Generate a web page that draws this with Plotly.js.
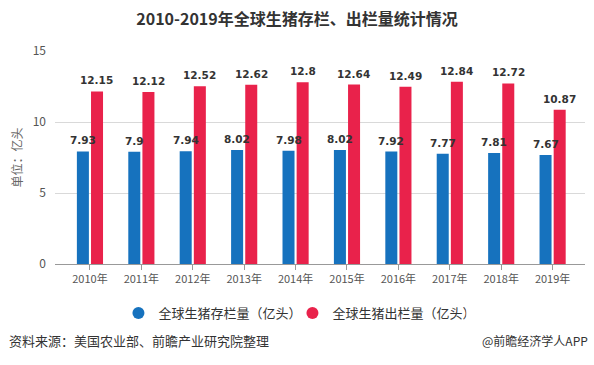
<!DOCTYPE html>
<html><head><meta charset="utf-8">
<script src="https://cdn.plot.ly/plotly-3.0.1.min.js"></script>
<style>body{margin:0;background:#fff}#c{width:594px;height:365px}</style>
</head><body><div id="c"></div>
<script>
const years = ['2010年','2011年','2012年','2013年','2014年','2015年','2016年','2017年','2018年','2019年'];
const stock = [7.93, 7.9, 7.94, 8.02, 7.98, 8.02, 7.92, 7.77, 7.81, 7.67];
const slaughter = [12.15, 12.12, 12.52, 12.62, 12.8, 12.64, 12.49, 12.84, 12.72, 10.87];
const seriesNames = ['全球生猪存栏量（亿头）', '全球生猪出栏量（亿头）'];
const colors = ['#1672be', '#e9224b'];
const yTicks = [0, 5, 10, 15];

const cjk = '"Noto Sans CJK SC", sans-serif';
const labelFont = {family: 'DejaVu Sans, sans-serif', size: 10.5, color: '#333', weight: 'bold'};

const data = [
  {type:'bar', x: years, y: stock, name: seriesNames[0], marker:{color: colors[0]},
   showlegend:false, hoverinfo:'none'},
  {type:'bar', x: years, y: slaughter, name: seriesNames[1], marker:{color: colors[1]},
   showlegend:false, hoverinfo:'none'},
  {type:'scatter', mode:'markers', x:[null], y:[null], name: seriesNames[0],
   marker:{color: colors[0], size: 12, symbol:'circle'}},
  {type:'scatter', mode:'markers', x:[null], y:[null], name: seriesNames[1],
   marker:{color: colors[1], size: 12, symbol:'circle'}}
];

// value labels drawn on top of all bars, positioned through the axes
const valueLabels = [];
[[stock, -7], [slaughter, 7]].forEach(([vals, shift]) => {
  vals.forEach((v, i) => {
    valueLabels.push({x: years[i], y: v, xref:'x', yref:'y', text: String(v), showarrow:false,
      xshift: shift, yshift: 3, yanchor:'bottom', xanchor:'center', font: labelFont});
  });
});

const layout = {
  width: 594, height: 365,
  margin: {l: 55, r: 9, t: 51, b: 101},
  paper_bgcolor: '#fff', plot_bgcolor: '#fff',
  title: {text: '<b>2010-2019年全球生猪存栏、出栏量统计情况</b>', x: 0.5, xref:'container', xanchor:'center',
          y: 0.962, yref:'container', font: {family: cjk, size: 16, color: '#333'}},
  barmode: 'group', bargap: 0.45, bargroupgap: 0.15,
  xaxis: {type:'category', range:[-0.68, 9.63], showline:true, linecolor:'#999', linewidth:1,
          ticks:'outside', ticklen:5, tickcolor:'#999', showgrid:false,
          tickfont:{family: cjk, size: 11, color:'#555'}, fixedrange:true},
  yaxis: {range:[0, 15], tickvals: yTicks, showgrid:true, gridcolor:'#d9d9d9', zeroline:false,
          showline:false, ticks:'', ticklabelstandoff: 8,
          tickfont:{family: cjk, size: 12, color:'#555'},
          title:{text:'单位：亿头', font:{family: cjk, size: 12, color:'#666'}, standoff: 7}},
  legend: {orientation:'h', x: 0.448, xanchor:'center', y: -0.23, yanchor:'middle',
           font:{family: cjk, size: 13, color:'#333'}, itemwidth: 30, entrywidth: 129, entrywidthmode:'pixels'},
  annotations: valueLabels.concat([
    {text:'资料来源：美国农业部、前瞻产业研究院整理', xref:'paper', yref:'paper', x: -0.09, y: -0.357,
     xanchor:'left', yanchor:'middle', showarrow:false, font:{family: cjk, size: 13, color:'#333'}},
    {text:'@前瞻经济学人APP', xref:'paper', yref:'paper', x: 1.01, y: -0.357,
     xanchor:'right', yanchor:'middle', showarrow:false, font:{family: cjk, size: 12, color:'#333'}}
  ]),
  showlegend: true
};

Plotly.newPlot('c', data, layout, {displayModeBar:false, staticPlot:true});
</script></body></html>
